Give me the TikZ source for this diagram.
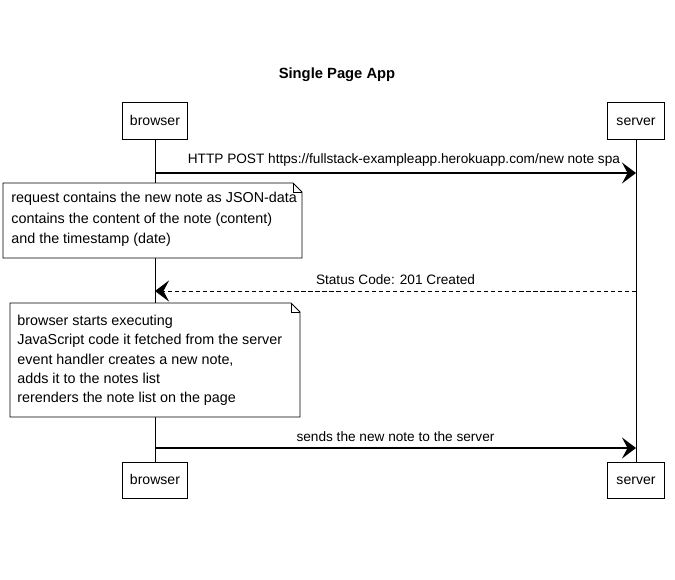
\documentclass[tikz,border=0pt]{standalone}
\usepackage{fontspec}
\setmainfont{Liberation Sans}
\usetikzlibrary{arrows.meta,positioning,calc}
\newcommand{\NoteFrame}[4]{
  \draw[fill=white](#1,#2)--(#3-9,#2)--(#3,#2+9)--(#3,#4)--(#1,#4)--cycle;
  \draw[thin](#3-9,#2)--(#3-9,#2+9)--(#3,#2+9);
}
\tikzset{
  actor/.style={draw,fill=white,line width=0.7pt,minimum height=0.93cm,inner sep=2pt,text height=7pt,text depth=0pt},
  notetext/.style={anchor=north west,align=left,inner sep=0pt,font=\fontsize{10.2}{14.5}\selectfont},
  msg/.style={->,line width=0.9pt},
  msgtext/.style={above=1pt,font=\fontsize{9.7}{12}\selectfont}
}

\begin{document}
\begin{tikzpicture}[x=0.025cm,y=-0.025cm,>={Stealth[length=10pt,width=15pt,inset=4pt]},line width=0.6pt]
  \useasboundingbox(0,0)rectangle(675,579);
  \node[font=\fontsize{10.5}{12}\selectfont\bfseries](title)at(337,75){Single Page App};
  \node[actor,minimum width=1.625cm](browserTop)at(155,121){browser};
  \node[actor,minimum width=1.425cm](serverTop)at(636,121){server};
  \node[actor,minimum width=1.625cm,minimum height=0.9cm](browserBot)at(155,480){browser};
  \node[actor,minimum width=1.425cm,minimum height=0.9cm](serverBot)at(636,480){server};
  \draw(browserTop)--(browserBot);
  \draw(serverTop)--(serverBot);
  \coordinate(postB)at(155,173);
  \coordinate(postS)at(636,173);
  \coordinate(statusS)at(636,291);
  \coordinate(statusB)at(155,291);
  \coordinate(sendB)at(155,448);
  \coordinate(sendS)at(636,448);
  \draw[msg](postB)--(postS)node[midway,msgtext,xshift=6]{HTTP POST https://fullstack-exampleapp.herokuapp.com/new note spa};
  \NoteFrame{3}{183}{302}{258}
  \node[notetext](reqNote)at(11,192){request contains the new note as JSON-data\\contains the content of the note (content)\\and the timestamp (date)};
  \draw[msg,line width=0.6pt,dash pattern=on 3pt off 2pt](statusS)--(statusB)node[midway,msgtext]{Status Code: 201 Created};
  \NoteFrame{10}{303}{300}{417}
  \node[notetext,font=\fontsize{10.2}{13.6}\selectfont](execNote)at(17,315){browser starts executing\\JavaScript code it fetched from the server\\event handler creates a new note,\\adds it to the notes list\\rerenders the note list on the page};
  \draw[msg](sendB)--(sendS)node[midway,msgtext]{sends the new note to the server};
\end{tikzpicture}
\end{document}
